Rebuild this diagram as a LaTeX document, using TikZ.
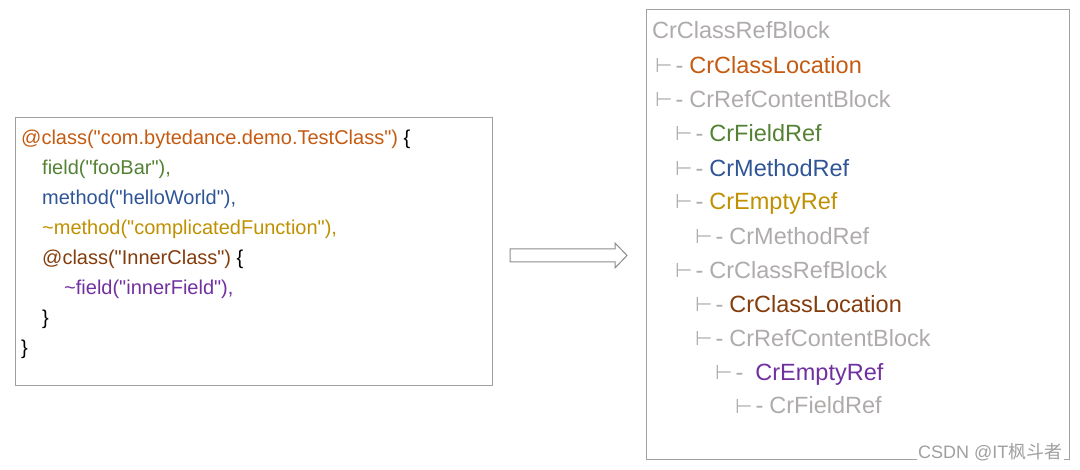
\documentclass[tikz,border=0pt]{standalone}
\usepackage{fontspec}
\setmainfont{Liberation Sans}
\newfontfamily\symfont{DejaVu Sans}
\newfontfamily\cjkfont{Noto Sans CJK SC}

\definecolor{clsorange}{HTML}{C55A11}
\definecolor{fieldgreen}{HTML}{548235}
\definecolor{methodblue}{HTML}{2F5597}
\definecolor{emptygold}{HTML}{BF9000}
\definecolor{innerbrown}{HTML}{843C0C}
\definecolor{innerpurple}{HTML}{7030A0}
\definecolor{treegray}{HTML}{AFABAB}
\definecolor{framegray}{HTML}{A0A0A0}
\definecolor{arrowgray}{HTML}{8C8C8C}

% straight double quote
\newcommand{\dq}{\textquotedbl}
% tree branch mark: small turnstile followed by a dash
\newcommand{\branch}{\textcolor{treegray}{\raisebox{1pt}{\symfont\fontsize{20}{20}\selectfont ⊢}\hspace{3pt}-\hspace{6pt}}}

\tikzset{
  codeline/.style={anchor=base west, inner sep=0pt, font=\fontsize{20}{22}\selectfont},
  treeline/.style={anchor=base west, inner sep=0pt, font=\fontsize{23.5}{26}\selectfont},
  frame/.style={draw=framegray, line width=1pt},
}

\begin{document}
\begin{tikzpicture}[x=1pt, y=-1pt]
    \useasboundingbox (0,0) rectangle (1080,470);
    % code side
    \draw[frame] (15, 118) rectangle (492, 386);
    \node[codeline, clsorange] (cls) at (21, 145) {@class(\dq com.bytedance.demo.TestClass\dq) \textcolor{black}{\{}};
    \node[codeline, fieldgreen] (foo) at (42, 175) {field(\dq fooBar\dq),};
    \node[codeline, methodblue] (hello) at (42, 205) {method(\dq helloWorld\dq),};
    \node[codeline, emptygold] (compl) at (42, 235) {\textasciitilde method(\dq complicatedFunction\dq),};
    \node[codeline, innerbrown] (inner) at (42, 265) {@class(\dq InnerClass\dq) \textcolor{black}{\{}};
    \node[codeline, innerpurple] (infield) at (64, 295) {\textasciitilde field(\dq innerField\dq),};
    \node[codeline] (innerend) at (42, 325) {\}};
    \node[codeline] (clsend) at (21, 355) {\}};
    % arrow
    \draw[arrowgray, line width=1pt, fill=white] (510, 249) -- (615, 249) -- (615, 243) -- (627, 255.5)
        -- (615, 268) -- (615, 262) -- (510, 262) -- cycle;
    % tree side
    \draw[frame] (646, 10) rectangle (1069, 460);
    \node[treeline, treegray] (root) at (652, 39) {CrClassRefBlock};
    \node[treeline] (loc) at (655, 74) {\branch\textcolor{clsorange}{CrClassLocation}};
    \node[treeline] (content) at (655, 108) {\branch\textcolor{treegray}{CrRefContentBlock}};
    \node[treeline] (fref) at (675, 142) {\branch\textcolor{fieldgreen}{CrFieldRef}};
    \node[treeline] (mref) at (675, 177) {\branch\textcolor{methodblue}{CrMethodRef}};
    \node[treeline] (eref) at (675, 210) {\branch\textcolor{emptygold}{CrEmptyRef}};
    \node[treeline] (emref) at (695, 245) {\branch\textcolor{treegray}{CrMethodRef}};
    \node[treeline] (subblock) at (675, 279) {\branch\textcolor{treegray}{CrClassRefBlock}};
    \node[treeline] (subloc) at (695, 313) {\branch\textcolor{innerbrown}{CrClassLocation}};
    \node[treeline] (subcontent) at (695, 347) {\branch\textcolor{treegray}{CrRefContentBlock}};
    \node[treeline] (suberef) at (715, 381) {\branch\hspace{6pt}\textcolor{innerpurple}{CrEmptyRef}};
    \node[treeline] (subfref) at (735, 414) {\branch\textcolor{treegray}{CrFieldRef}};
    % watermark
    \node[anchor=base east, inner sep=1.5pt, fill=white, text=framegray, font=\fontsize{18}{20}\selectfont]
        (mark) at (1064, 458) {CSDN @IT{\cjkfont 枫斗者}};
\end{tikzpicture}
\end{document}
